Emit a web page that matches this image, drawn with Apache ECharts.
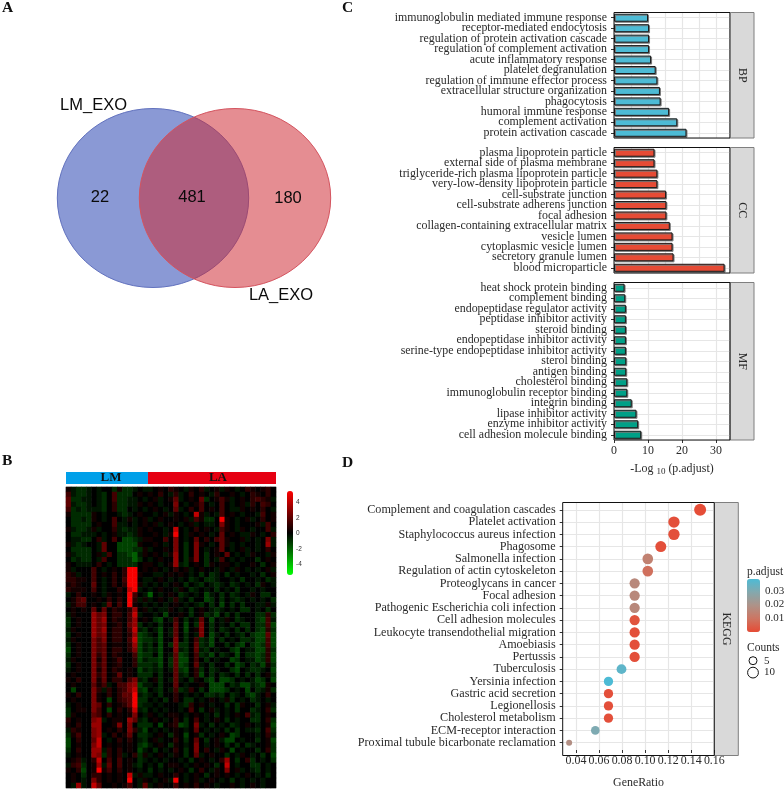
<!DOCTYPE html>
<html><head><meta charset="utf-8">
<style>html,body{margin:0;padding:0;background:#fff}#c{width:784px;height:790px}</style>
<script src="https://cdn.jsdelivr.net/npm/echarts@6/dist/echarts.min.js"></script>
</head><body><div id="c"></div>
<script>
const vennSets = ['LM_EXO', 'LA_EXO'];
const vennCounts = [22, 481, 180];

const annoGroups = ['LM', 'LA'];
const annoColumns = [16, 25];

// heat-map cells, read row by row; "." = 0, 1..8 = red levels, a..d = green levels
const heatRows = [
"1abb a.a. .b1b ba.a  a.1.2 1.a1. 2a.1a 1.a.2 1.12.",
"3abb a.ab .3bb b.1.  1.2.a 2a.2. 1.a2. .1.a. 21.2.",
"4bba a.ab .3bb aa.a  .1a.1 4a.1. 4b.13 1a.1. 2321a",
"4abb a.ab .2bb aa1.  1.a.. 5.a.1 3.a.3 .a.1a 2.32.",
"3bab aaab .2bb .a.a  .1.a. 4a.2. 3.1.3 .aa1. 1.2.a",
"1bbb b1.a ..ab a.1.  .a.1a 1.a.7 1a.a3 .1.a. .a3.1",
".bba b1.a .3.a 1a.1  a.1.. 1.1a3 1bb.8 1.a.1 a.2.1",
".bbb b.1. .3aa .a.1  .1a.1 .a.1a .aa.5 1.a.. .1a3.",
"1abb a1a. .2ab aa1.  1..a. 7.a.2 .1.a3 1.a1. a..3a",
".bba aa.a .1aa ba1.  .1.a1 8.a1. 1.a.4 .1.aa 1.a.2",
".aab b.2a .3.c cba1  1..3. 5.a.4 .2.34 1..1a .a.5a",
"1aba ..a4 ..cc cc1.  .1.a. 5.b.5 1.a.4 1a.a. .a.6a",
".bbb b.a4 ..cc cbb1  a..1. 5.b.5 .a.14 .a.1a .a.2.",
"1abb b.1a 3.bb cda1  .1.a1 6.b.5 .b.1. 4.a.a 1..a1",
".bab b.a3 ..bb bdb.  a.1.. 6.b15 .b.a3 .a.a. .b.1.",
"1.aa a.2. a.bb bb.1  1.a.1 6ab.1 .b1.1 1.a.. 1.b.1",
"1a.. .3.a .1.2 88.1  .1.a. 2.1a. 1..a1 .a1.a .a.1a",
"21a. .3.1 .2.2 881.  .aa.1 .1.a. b.ba. b.a.. a.b.1",
"2211 .3.a .2.3 88.a  a.1.a .a.ba .bba. .a.b. .a.ba",
"121. .4.a .2.2 881a  .a.a. 1.b.a b.aba .ba.a .b1.a",
"2111 .3.a ..2. 78a.  a.1.. a1.ba .a.b. a.b.. a.a..",
"a.2. .1.a 1.1. 83.a  d.a.1 .ba.a .ca.b .ba.a 1.bb.",
".134 ..1. 2.2. 82a1  a.1.a 2a.b. .cb.b .aba. a.a.b",
"a133 .1.a 4.3. 81.a  .a.a. 1.a.a b.b.c .b.b. .aa1a",
".1.1 .4.4 .21. 26.1  a.aa1 .a.b. 1.aba .a.bb .a.b.",
"a1.. .645 .22. 37a.  .a.c. .1.b. 1bac. b.b.. .bb2b",
"b.1. .646 .21. 36.1  .bc.a 3.b.a 4.c.a 1.ba. .bc3a",
"b.1. .645 .12. 46b.  a.b.. 4.c.b 5.b.a .b.bb .bb3c",
"a1.. .646 .22. 37ab  .ac.a 4.c.1 5.b.b a.b.b .bc2b",
"b.1. .645 .22. 26cb  a.c.a 4.b.a 5.ca. b.ab. bcc4c",
"a1.. .535 .22. 37cb  bac.. 5.b.3 bac.b .a.bb acc3c",
"b.1. .534 .11. 26ca  b.c.b 5bb.4 bac.. b.bc. bcb3c",
"c.1. .534 .22. 25ca  bac.. 5ab.4 ab.a. .bc.a acc2b",
"b.1. .524 .21. .3cb  b.c.a 4cb.3 bac.b a.c.b bcb2c",
"a1.. .514 .13. .2ca  bbc.b 4cc.3 .b.a. .cb.a acb2c",
"b.1. .524 .12. .2bb  bac.b 4cb.4 a.b.. b.cb. bac1b",
"a.1. .514 .21. 1.ca  bab.a 4bc.2 b.ba. .bc.a bba.c",
".1.. .524 .14. 1.bb  b.b.. 4ab.2 c.b.b a.b.b .b.1b",
"1.2. .514 .22. 35ab  .1b.a 4a.b1 .bc.c cb.a. acb.c",
".1.. .413 a.33 56ca  a.b.. 4.a.. 1.ccc .bacc abc1.",
".c.. .52a 2.23 57bc  .ab.a 3ba2. b.ccc b.a.c .ba1b",
"1.2. .51. 2.24 48ab  a.b.. 2.a.a .bbab .ba.b ca.2.",
".1.. .51. c.23 48bb  .a.b. 2.bb. a.1.a 1b.a. ba.a.",
"a.1. .54. 2.12 48ba  a.a.. .ab2. 1.a.. b.b1. .b.1a",
"b.11 .53. c.2. 27ab  .a.a. .a.3. b.1a. a.b.. ba.2b",
"b1.. .43. 2.1. 15.a  1.a.1 1.a.1 .a.b. a.1.3 ab.1.",
"2.1. .56a .11. 64ab  .1.a. 2.b.3 .a.1. b.a.. bb.2b",
"1.2. .66. .15. 5.bb  b.c.1 2cb.5 a.b.a .ba.1 .a.1c",
"a21. .56. 1.2. 52ac  .a.a. 1.a.4 .a.a. b.b.a ab.3b",
"b13. .56a .2.1 4.bb  a.1.b 1.c.1 b.a.1 .cb.. .a.2a",
"c.2. .47. a.2. 2.ab  .1a.. 2.b.4 .b.1a cc.a. .b.1c",
"c.1. .57. 1.1. 1.bc  a.1.b 1.a.5 .a.1. b.b.b a..1b",
"b.2. .66a 2.2. 1.ca  .b.a. 2.b.5 .2.a1 .c.a. .b.2b",
"a.1. .65b 2.2a .2b1  a.1.a 1.b.4 a.1.. b.a1. a.b.c",
".12a .27. 3.3. 1.ba  .a.a. .a.b. 1.a.2 6.b.2 b.a.b",
"a23b .16a 4.3. 1ab.  a.b.1 1.a.1 .1.b. 7.a.. bb.a.",
"1.2c .181 3.2. 1.a.  b.a.a .1.b. 2.a1. 5.1a. ab.a.",
".1.b .22. 1.1. 7a1a  a.1.. 2.a.1 .b.1. 1.a.1 .a.b.",
".1.a .52. 1.1. 8.a1  .a.1a 8.a.1 a.1.a .b.a. a.a..",
".a6a .74. .1.1 3.a4  a.1.. 3.1.2 .1.a. .1.a. 1.a.."
];
const heatLevels = {'.':0,'1':0.4,'2':0.9,'3':1.4,'4':2,'5':2.6,'6':3.2,'7':4.1,'8':5.2,'a':-0.45,'b':-0.9,'c':-1.4,'d':-2};
const heatTicks = [4, 2, 0, -2, -4];

const bpTerms = ['immunoglobulin mediated immune response','receptor-mediated endocytosis','regulation of protein activation cascade','regulation of complement activation','acute inflammatory response','platelet degranulation','regulation of immune effector process','extracellular structure organization','phagocytosis','humoral immune response','complement activation','protein activation cascade'];
const bpValues = [10, 10.3, 10.3, 10.3, 10.9, 12.25, 12.75, 13.5, 13.7, 16.2, 18.6, 21.3];
const ccTerms = ['plasma lipoprotein particle','external side of plasma membrane','triglyceride-rich plasma lipoprotein particle','very-low-density lipoprotein particle','cell-substrate junction','cell-substrate adherens junction','focal adhesion','collagen-containing extracellular matrix','vesicle lumen','cytoplasmic vesicle lumen','secretory granule lumen','blood microparticle'];
const ccValues = [11.9, 11.9, 12.75, 12.75, 15.3, 15.4, 15.4, 16.4, 17.2, 17.2, 17.5, 32.5];
const mfTerms = ['heat shock protein binding','complement binding','endopeptidase regulator activity','peptidase inhibitor activity','steroid binding','endopeptidase inhibitor activity','serine-type endopeptidase inhibitor activity','sterol binding','antigen binding','cholesterol binding','immunoglobulin receptor binding','integrin binding','lipase inhibitor activity','enzyme inhibitor activity','cell adhesion molecule binding'];
const mfValues = [3.1, 3.3, 3.5, 3.5, 3.5, 3.5, 3.5, 3.6, 3.6, 3.9, 3.9, 5.2, 6.6, 7.1, 8.0];
const goTicks = [0, 10, 20, 30];

const keggTerms = ['Complement and coagulation cascades','Platelet activation','Staphylococcus aureus infection','Phagosome','Salmonella infection','Regulation of actin cytoskeleton','Proteoglycans in cancer','Focal adhesion','Pathogenic Escherichia coli infection','Cell adhesion molecules','Leukocyte transendothelial migration','Amoebiasis','Pertussis','Tuberculosis','Yersinia infection','Gastric acid secretion','Legionellosis','Cholesterol metabolism','ECM-receptor interaction','Proximal tubule bicarbonate reclamation'];
const keggRatio = [0.1477, 0.125, 0.125, 0.1136, 0.1023, 0.1023, 0.0909, 0.0909, 0.0909, 0.0909, 0.0909, 0.0909, 0.0909, 0.0795, 0.0682, 0.0682, 0.0682, 0.0682, 0.0568, 0.0341];
const keggCounts = [13, 11, 11, 10, 9, 9, 8, 8, 8, 8, 8, 8, 8, 7, 6, 6, 6, 6, 5, 3];
const keggPadj = [0.0005, 0.001, 0.001, 0.001, 0.0135, 0.0085, 0.016, 0.016, 0.016, 0.002, 0.001, 0.001, 0.001, 0.0355, 0.0385, 0.001, 0.001, 0.001, 0.03, 0.018];
const keggTicks = [0.04, 0.06, 0.08, 0.10, 0.12, 0.14, 0.16];
const padjTicks = [0.03, 0.02, 0.01];
const countTicks = [5, 10];

const SERIF = '"Liberation Serif","Times New Roman",serif';
const SANS = '"Liberation Sans",Arial,sans-serif';
const INK = '#2a2a2a';
const GRIDC = '#e6e6e6';
const FS = 11.9;
const FSK = 12.15;

const heatCols = heatRows.map(r => r.replace(/\s/g, '').split(''));
const heatData = [];
heatCols.forEach((row, y) => row.forEach((c, x) => heatData.push([x, y, heatLevels[c]])));

const grids = [], xAxes = [], yAxes = [], series = [];
function addGrid(g) { grids.push(Object.assign({containLabel: false}, g)); return grids.length - 1; }

// A: Venn
const gV = addGrid({left: 0, top: 0, width: 340, height: 320});
xAxes.push({gridIndex: gV, type: 'value', min: 0, max: 340, show: false});
yAxes.push({gridIndex: gV, type: 'value', min: 0, max: 320, inverse: true, show: false});
const vAxis = xAxes.length - 1;
const vennCircles = [[153, 198, 95.7, 89.5, 'rgba(60,85,185,0.6)', '#6272BE'], [235, 198, 95.7, 89.5, 'rgba(205,40,50,0.53)', '#D4545F']];
series.push({type: 'custom', xAxisIndex: vAxis, yAxisIndex: vAxis, coordinateSystem: 'cartesian2d', silent: true, data: vennCircles,
  renderItem(p, api) {
    const c = api.coord([api.value(0), api.value(1)]);
    const s = api.size([api.value(2), api.value(3)]);
    const d = vennCircles[p.dataIndex];
    return {type: 'ellipse', shape: {cx: c[0], cy: c[1], rx: s[0], ry: s[1]}, style: {fill: d[4], stroke: d[5], lineWidth: 1}};
  }});
const vennTexts = [[100, 197, vennCounts[0]], [192, 197, vennCounts[1]], [288, 198, vennCounts[2]], [93.5, 105, vennSets[0]], [281, 295, vennSets[1]]];
series.push({type: 'scatter', xAxisIndex: vAxis, yAxisIndex: vAxis, symbolSize: 0, silent: true, data: vennTexts, itemStyle: {opacity: 1},
  label: {show: true, position: 'inside', formatter: p => p.data[2], fontFamily: SANS, fontSize: 16.5, color: '#0a0a0a', opacity: 1}});

// B: annotation bar + heat map
const gA = addGrid({left: 66, top: 472, width: 210, height: 12});
xAxes.push({gridIndex: gA, type: 'value', min: 0, max: 41, show: false});
yAxes.push({gridIndex: gA, type: 'category', data: ['group'], show: false});
const aAxis = xAxes.length - 1;
annoGroups.forEach((g, i) => series.push({type: 'bar', stack: 'anno', name: g, xAxisIndex: aAxis, yAxisIndex: aAxis, barWidth: 12, silent: true,
  data: [annoColumns[i]], itemStyle: {color: i ? '#E60012' : '#00A0E9'},
  label: {show: true, position: 'inside', offset: [i ? 6 : 4, 0], formatter: g, fontFamily: SERIF, fontWeight: 'bold', fontSize: 13, color: '#111'}}));
const gH = addGrid({left: 66, top: 487, width: 210, height: 301, show: true, borderColor: '#888', borderWidth: 0.5});
xAxes.push({gridIndex: gH, type: 'category', data: heatCols[0].map((_, i) => i), show: false});
yAxes.push({gridIndex: gH, type: 'category', data: heatCols.map((_, i) => i), inverse: true, show: false});
const hAxis = xAxes.length - 1;
const heatSeries = series.length;
series.push({type: 'heatmap', xAxisIndex: hAxis, yAxisIndex: hAxis, data: heatData, silent: true, progressive: 0});

// C: GO bars
function addFacet(top, height, terms, values, color, last) {
  const g = addGrid({left: 614, top, width: 116, height});
  xAxes.push({gridIndex: g, type: 'value', min: 0, max: 34.1, interval: 5, position: 'bottom',
    splitLine: {show: true, lineStyle: {color: GRIDC, width: 1.2}},
    axisLine: {show: false, onZero: false},
    axisTick: last ? {show: true, length: 3, lineStyle: {color: '#333'}, customValues: goTicks} : {show: false},
    axisLabel: last ? {show: true, customValues: goTicks, margin: 5, fontFamily: SERIF, fontSize: FS, color: INK} : {show: false},
    name: last ? '-Log {s|10} (p.adjust)' : '', nameLocation: 'middle', nameGap: 22,
    nameTextStyle: {fontFamily: SERIF, fontSize: FS, color: INK, rich: {s: {fontFamily: SERIF, fontSize: 9, color: INK, padding: [5, 0, 0, 0]}}}});
  const xi = xAxes.length - 1;
  yAxes.push({gridIndex: g, type: 'category', data: terms, inverse: true,
    axisLine: {show: false, onZero: false}, axisTick: {show: true, length: 3, alignWithLabel: true, interval: 0, lineStyle: {color: '#333'}},
    axisLabel: {interval: 0, margin: 7, fontFamily: SERIF, fontSize: FS, color: INK}, splitLine: {show: false}});
  const yi = yAxes.length - 1;
  // horizontal gridlines sit on the category centres
  yAxes.push({gridIndex: g, type: 'value', min: -0.5, max: terms.length - 0.5, splitNumber: terms.length, inverse: true, position: 'right',
    axisLine: {show: false, onZero: false}, axisTick: {show: false}, axisLabel: {show: false},
    splitLine: {show: true, lineStyle: {color: GRIDC, width: 1.2}}});
  series.push({type: 'bar', xAxisIndex: xi, yAxisIndex: yi, data: values, barWidth: 8, silent: true,
    itemStyle: {color, borderColor: '#1a1a1a', borderWidth: 1, shadowColor: '#777', shadowOffsetX: 1, shadowOffsetY: 1, shadowBlur: 0}});
}
addFacet(12.5, 125.5, bpTerms, bpValues, '#4DBBD5', false);
addFacet(147.5, 125.5, ccTerms, ccValues, '#E64B35', false);
addFacet(282.5, 157.5, mfTerms, mfValues, '#00A087', true);

// D: KEGG dots
const gK = addGrid({left: 562.7, top: 502.5, width: 151.6, height: 253});
xAxes.push({gridIndex: gK, type: 'value', min: 0.0285, max: 0.16, splitNumber: 13, position: 'bottom',
  splitLine: {show: true, lineStyle: {color: GRIDC, width: 1.2}}, axisLine: {show: false, onZero: false},
  axisTick: {show: true, length: 3, lineStyle: {color: '#333'}, customValues: keggTicks},
  axisLabel: {show: true, customValues: keggTicks, margin: 5, formatter: v => v.toFixed(2), fontFamily: SERIF, fontSize: FS, color: INK},
  name: 'GeneRatio', nameLocation: 'middle', nameGap: 27, nameTextStyle: {fontFamily: SERIF, fontSize: FS, color: INK}});
const kx = xAxes.length - 1;
yAxes.push({gridIndex: gK, type: 'value', min: -0.6, max: keggTerms.length - 0.4, splitNumber: keggTerms.length, inverse: true,
  splitLine: {show: true, lineStyle: {color: GRIDC, width: 1.2}}, axisLine: {show: false, onZero: false},
  axisTick: {show: true, length: 3, lineStyle: {color: '#333'}, customValues: keggTerms.map((_, i) => i)},
  axisLabel: {show: true, showMinLabel: true, showMaxLabel: true, customValues: keggTerms.map((_, i) => i), formatter: v => keggTerms[v], margin: 7, fontFamily: SERIF, fontSize: FSK, color: INK}});
const ky = yAxes.length - 1;
const dotSize = c => 6 + 6 * Math.sqrt((c - 3) / 10);
const keggSeries = series.length;
series.push({type: 'scatter', xAxisIndex: kx, yAxisIndex: ky, silent: true, z: 5,
  data: keggTerms.map((_, i) => [keggRatio[i], i, keggPadj[i], keggCounts[i]]),
  symbolSize: d => dotSize(d[3]), itemStyle: {opacity: 1}});

// small helpers for static panel furniture
const txt = (x, y, text, o) => ({type: 'text', x, y, silent: true, style: Object.assign({text, fontFamily: SERIF, fontSize: FS, fill: INK, align: 'left', verticalAlign: 'middle'}, o || {})});
const frame = (left, top, w, h) => ({type: 'rect', silent: true, z: 100, shape: {x: left, y: top, width: w, height: h}, style: {fill: 'none', stroke: '#111', lineWidth: 1}});
function strip(left, top, w, h, label) {
  return [
    {type: 'rect', silent: true, shape: {x: left, y: top, width: w, height: h}, style: {fill: '#D9D9D9', stroke: '#7f7f7f', lineWidth: 1}},
    {type: 'text', silent: true, x: left + w / 2, y: top + h / 2, rotation: -Math.PI / 2,
      style: {text: label, fontFamily: SERIF, fontSize: FS, fill: INK, align: 'center', verticalAlign: 'middle'}}
  ];
}
const boldL = {fontWeight: 'bold', fontSize: 15.5, fill: '#111'};
const graphics = [
  txt(2, 8, 'A', boldL), txt(2, 461, 'B', boldL), txt(342, 8, 'C', boldL), txt(342, 463, 'D', boldL),
  ...strip(730, 12.5, 24, 125.5, 'BP'), ...strip(730, 147.5, 24, 125.5, 'CC'), ...strip(730, 282.5, 24, 157.5, 'MF'), ...strip(714.3, 502.5, 24, 253, 'KEGG'),
  frame(614, 12.5, 116, 125.5), frame(614, 147.5, 116, 125.5), frame(614, 282.5, 116, 157.5), frame(562.7, 502.5, 151.6, 253),
  ...heatTicks.map((t, i) => txt(296, 502.7 + i * 15.5, String(t), {fontFamily: SANS, fontSize: 6.5, fill: '#333'})),
  txt(747, 572, 'p.adjust', {fontSize: 11.5}),
  ...padjTicks.map((t, i) => txt(765, 590.7 + i * 13.7, t.toFixed(2), {fontSize: 11})),
  txt(747, 648, 'Counts', {fontSize: 11.5}),
  ...countTicks.map((c, i) => ({type: 'circle', silent: true, shape: {cx: 753, cy: 660.7 + i * 11.9, r: [4, 5.4][i]}, style: {fill: '#fff', stroke: '#111', lineWidth: 1}})),
  ...countTicks.map((c, i) => txt(764, 660.7 + i * 11.9, String(c), {fontSize: 11}))
];

const chart = echarts.init(document.getElementById('c'), null, {renderer: 'canvas'});
chart.setOption({
  animation: false, backgroundColor: '#fff', tooltip: {show: false},
  grid: grids, xAxis: xAxes, yAxis: yAxes, series,
  visualMap: [
    {type: 'continuous', seriesIndex: heatSeries, dimension: 2, min: -5.4, max: 5.4, left: 287, top: 491, itemWidth: 6, itemHeight: 84, padding: 0, borderWidth: 0,
      calculable: false, inRange: {color: ['#00ff00', '#000000', '#ff0000']}, textStyle: {fontSize: 1, color: 'transparent'}},
    {type: 'continuous', seriesIndex: keggSeries, dimension: 2, min: 0, max: 0.0385, left: 747, top: 579, itemWidth: 13, itemHeight: 53, padding: 0, borderWidth: 0,
      calculable: false, inRange: {color: ['#E64B35', '#CD7562', '#AE9288', '#84A8AD', '#4DBBD5']}, textStyle: {fontSize: 1, color: 'transparent'}}
  ],
  graphic: graphics
});
</script></body></html>
